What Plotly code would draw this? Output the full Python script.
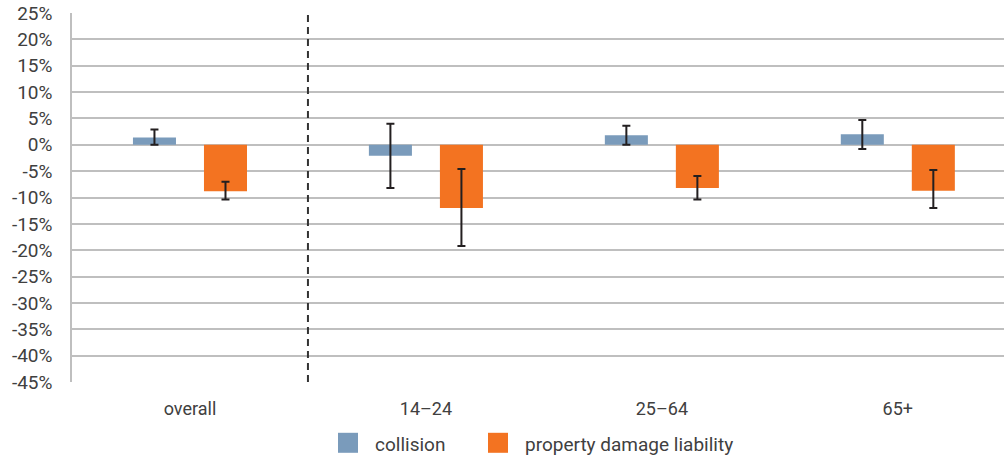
import plotly.graph_objects as go

# Categories and series (percent change)
categories = ["overall", "14\u201324", "25\u201364", "65+"]

collision = [1.4, -2.1, 1.8, 2.0]
collision_upper = [2.9, 4.0, 3.6, 4.7]
collision_lower = [0.0, -8.2, 0.0, -0.8]

pdl = [-8.8, -12.0, -8.2, -8.7]
pdl_upper = [-7.0, -4.6, -5.9, -4.8]
pdl_lower = [-10.4, -19.2, -10.4, -12.0]

y_ticks = list(range(-45, 30, 5))
y_tick_labels = [f"{v}%" for v in y_ticks]

BLUE = "#7a9bbb"
ORANGE = "#f37321"
ERR = "#231f20"
TEXT = "#404040"
GRID = "#bfbfbf"
FONT = "Roboto, Arial, sans-serif"


def err(vals, hi, lo):
    return dict(
        type="data",
        symmetric=False,
        array=[h - v for v, h in zip(vals, hi)],
        arrayminus=[v - l for v, l in zip(vals, lo)],
        color=ERR,
        thickness=2,
        width=4,
    )


fig = go.Figure()
fig.add_trace(go.Bar(
    name="collision", x=categories, y=collision,
    marker=dict(color=BLUE, line=dict(width=0)),
    error_y=err(collision, collision_upper, collision_lower),
))
fig.add_trace(go.Bar(
    name="property damage liability", x=categories, y=pdl,
    marker=dict(color=ORANGE, line=dict(width=0)),
    error_y=err(pdl, pdl_upper, pdl_lower),
))

# plot area in pixels, used to place the hand-drawn legend
L, R, T, B = 72, 1004, 12.7, 381.7


def px(x):
    return (x - L) / (R - L)


def py(y):
    return (B - y) / (B - T)


shapes = [
    # divider between the overall group and the age groups
    dict(type="line", xref="x", yref="paper", x0=0.5, x1=0.5, y0=0, y1=1,
         line=dict(color="#333333", width=2, dash="7px,5px")),
    # legend swatches
    dict(type="rect", xref="paper", yref="paper",
         x0=px(338), x1=px(358), y0=py(452.5), y1=py(432.5),
         fillcolor=BLUE, line=dict(width=0)),
    dict(type="rect", xref="paper", yref="paper",
         x0=px(488), x1=px(508), y0=py(452.5), y1=py(432.5),
         fillcolor=ORANGE, line=dict(width=0)),
]

annotations = [
    dict(text="collision", xref="paper", yref="paper", x=px(373), y=py(444),
         xanchor="left", yanchor="middle", showarrow=False,
         font=dict(family=FONT, size=19, color=TEXT)),
    dict(text="property damage liability", xref="paper", yref="paper",
         x=px(523), y=py(444), xanchor="left", yanchor="middle", showarrow=False,
         font=dict(family=FONT, size=19, color=TEXT)),
]

fig.update_layout(
    width=1004, height=458,
    margin=dict(l=L, r=1004 - R, t=T, b=458 - B),
    paper_bgcolor="white", plot_bgcolor="white",
    barmode="group", bargap=0.398, bargroupgap=0.394,
    showlegend=False,
    font=dict(family=FONT, size=18, color=TEXT),
    shapes=shapes, annotations=annotations,
    xaxis=dict(
        range=[-0.5, 3.45], showgrid=False, zeroline=False,
        showline=False, ticks="", ticklabelstandoff=14,
        tickfont=dict(family=FONT, size=18, color=TEXT),
    ),
    yaxis=dict(
        range=[-45, 25], tickvals=y_ticks, ticktext=y_tick_labels,
        showgrid=True, gridcolor=GRID, gridwidth=1.5,
        zeroline=True, zerolinecolor=GRID, zerolinewidth=1.5,
        showline=True, linecolor=GRID, linewidth=1.5,
        ticks="", ticklabelstandoff=14,
        tickfont=dict(family=FONT, size=19, color=TEXT),
    ),
)

fig.write_html("out.html")
